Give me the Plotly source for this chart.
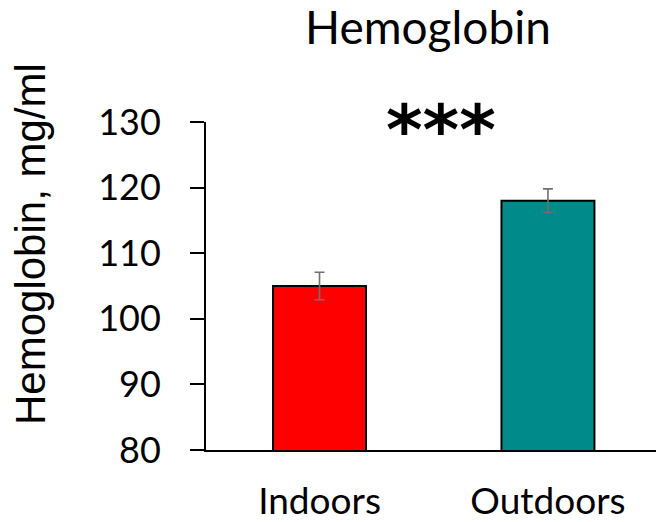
import plotly.graph_objects as go

categories = ["Indoors", "Outdoors"]
values = [105.0, 118.0]
errors = [2.1, 1.8]
colors = ["#FF0000", "#008B8B"]
y_ticks = [80, 90, 100, 110, 120, 130]
title_text = "Hemoglobin"
y_title = "Hemoglobin, mg/ml"
sig_text = "***"

W, H = 656, 522
L, R, T, B = 206, 0, 122, 72
pw, ph = W - L - R, H - T - B

fig = go.Figure()
fig.add_trace(go.Bar(
    x=categories, y=values,
    marker=dict(color=colors, line=dict(color="black", width=2)),
    width=0.407,
    error_y=dict(type="data", array=errors, visible=True,
                 color="#707070", thickness=1.6, width=5),
))

fig.update_layout(
    width=W, height=H,
    margin=dict(l=L, r=R, t=T, b=B, autoexpand=False),
    paper_bgcolor="white", plot_bgcolor="white",
    showlegend=False,
    title=dict(text=title_text, x=428 / W, xanchor="center",
               y=1 - 28 / H, yanchor="middle", automargin=False,
               font=dict(family="Lato", size=46, color="black")),
    xaxis=dict(range=[-0.497, 1.473], showline=True, linecolor="black", linewidth=2,
               ticks="", showgrid=False, zeroline=False, ticklabelstandoff=18,
               automargin=False,
               tickfont=dict(family="Lato", size=37, color="black")),
    yaxis=dict(range=[80, 130], tickvals=y_ticks, showline=True, linecolor="black",
               linewidth=2, ticks="outside", ticklen=14, tickwidth=2, tickcolor="black",
               showgrid=False, zeroline=False, ticklabelstandoff=22,
               automargin=False,
               tickfont=dict(family="Lato", size=36, color="black")),
)

fig.add_annotation(text=y_title, textangle=-90,
                   x=(30 - L) / pw, xref="paper", xanchor="center",
                   y=(H - B - 244) / ph, yref="paper", yanchor="middle",
                   showarrow=False,
                   font=dict(family="Liberation Sans", size=42, color="black"))

fig.add_annotation(text=sig_text, x=(441 - L) / pw, xref="paper", xanchor="center",
                   y=(H - B - 130) / ph, yref="paper", yanchor="middle",
                   showarrow=False,
                   font=dict(family="DejaVu Sans", size=70, color="black", weight="bold"))

fig.write_html("out.html", post_script="document.body.style.margin='0';",
               config={"displayModeBar": False})
